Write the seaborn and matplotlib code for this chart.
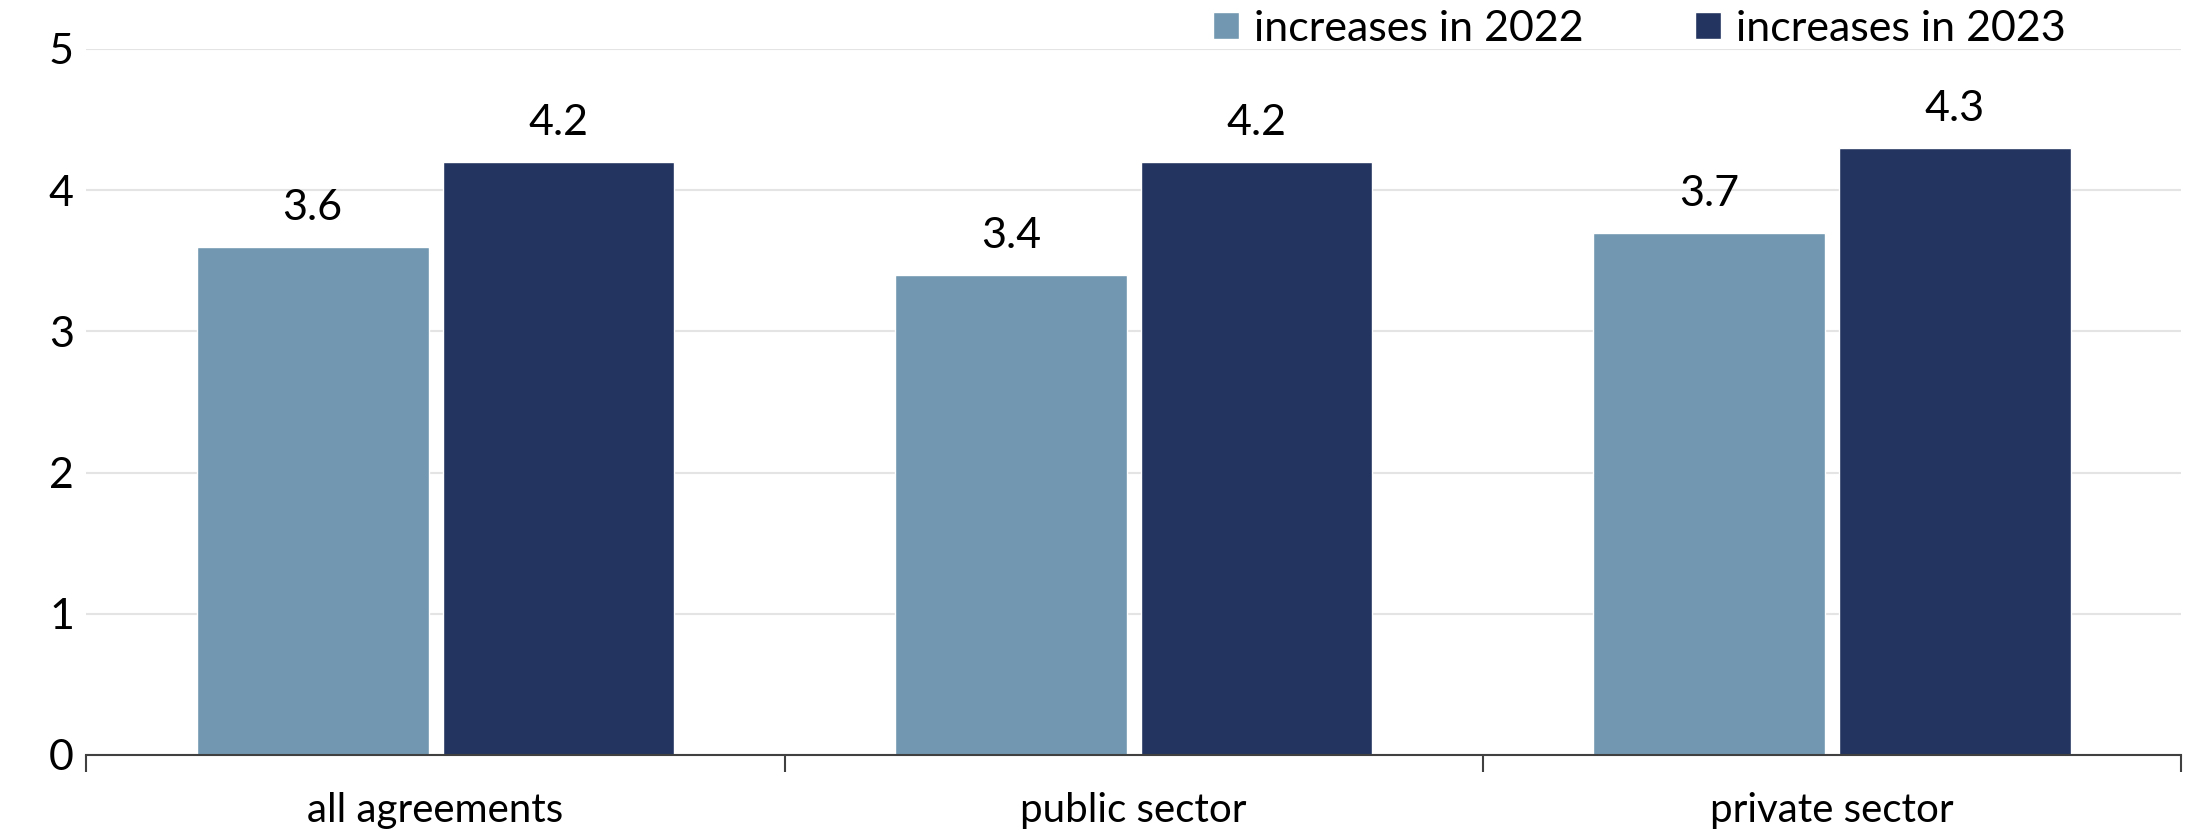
import matplotlib
matplotlib.use("Agg")
import matplotlib.pyplot as plt
import seaborn as sns
import pandas as pd
from matplotlib.ticker import FixedLocator

categories = ["all agreements", "public sector", "private sector"]
series_names = ["increases in 2022", "increases in 2023"]
values_2022 = [3.6, 3.4, 3.7]
values_2023 = [4.2, 4.2, 4.3]
colors = ["#7297B0", "#22345F"]

df = pd.DataFrame({
    "category": categories * 2,
    "series": [series_names[0]] * 3 + [series_names[1]] * 3,
    "value": values_2022 + values_2023,
})

sns.set_theme(style="white")
plt.rcParams['font.family'] = ['Lato', 'DejaVu Sans']
plt.rcParams['text.color'] = 'black'

fig = plt.figure(figsize=(21.88, 8.3), dpi=100)
ax = fig.add_axes([0.0395, 0.0904, 0.9573, 0.8506])

sns.barplot(data=df, x="category", y="value", hue="series", palette=colors,
            width=0.704, gap=0.057, ax=ax, legend=True, saturation=1)

ax.set_ylim(0, 5)
ax.set_xlim(-0.5, 2.5)
ax.set_yticks([0, 1, 2, 3, 4, 5])
ax.yaxis.grid(True, color="#e4e4e4", linewidth=1.5)
ax.set_axisbelow(True)
for s in ["top", "right", "left"]:
    ax.spines[s].set_visible(False)
ax.spines["bottom"].set_color("#404040")
ax.spines["bottom"].set_linewidth(1.5)
ax.set_xlabel("")
ax.set_ylabel("")
ax.tick_params(axis="y", length=0, labelsize=31, pad=9, labelcolor="black")
ax.tick_params(axis="x", which="major", length=0, labelsize=29, pad=27, labelcolor="black")
ax.xaxis.set_minor_locator(FixedLocator([-0.5, 0.5, 1.5, 2.5]))
ax.tick_params(axis="x", which="minor", length=12, width=1.5, color="#404040", bottom=True)

for container in ax.containers:
    ax.bar_label(container, fmt="%.1f", padding=14, fontsize=31, color="black")

handles, labels = ax.get_legend_handles_labels()
ax.legend_.remove()
fig.legend(handles, labels, loc="upper right", bbox_to_anchor=(0.962, 1.035), ncol=2,
           frameon=False, fontsize=31, handlelength=0.6, handleheight=0.6,
           handletextpad=0.35, columnspacing=2.6, labelcolor="black")

fig.savefig("out.png", dpi=100)
